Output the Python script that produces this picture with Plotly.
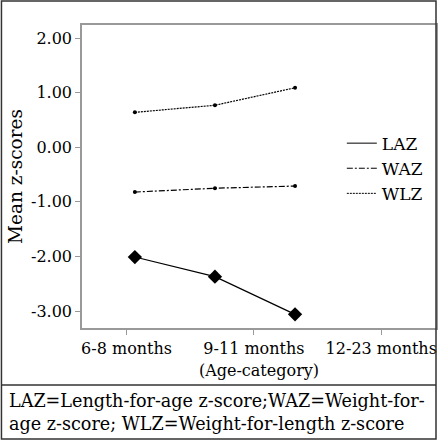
import plotly.graph_objects as go

categories = ["6-8 months", "9-11 months", "12-23 months"]
laz = [-2.01, -2.37, -3.06]
waz = [-0.82, -0.75, -0.71]
wlz = [0.64, 0.77, 1.09]
series_names = ["LAZ", "WAZ", "WLZ"]
y_ticks = [2, 1, 0, -1, -2, -3]
y_ticklabels = ["2.00", "1.00", "0.00", "-1.00", "-2.00", "-3.00"]
caption = "LAZ=Length-for-age z-score;WAZ=Weight-for-<br>age z-score; WLZ=Weight-for-length z-score"

FONT = "DejaVu Serif"
FS = 16
dashes = ["solid", "6px,2px,2px,2px", "2px,1px"]
markers = [dict(symbol="diamond", size=11, color="black"),
           dict(symbol="circle", size=4, color="black"),
           dict(symbol="circle", size=4, color="black")]

fig = go.Figure()
for name, vals, dash, mk in zip(series_names, [laz, waz, wlz], dashes, markers):
    fig.add_trace(go.Scatter(x=categories, y=vals, name=name, mode="lines+markers",
                             line=dict(color="black", width=1.2, dash=dash),
                             marker=mk, xaxis="x2", showlegend=False))
# legend entries (lines only)
for name, dash in zip(series_names, dashes):
    fig.add_trace(go.Scatter(x=[None], y=[None], name=name, mode="lines",
                             line=dict(color="black", width=1, dash=dash),
                             xaxis="x2", showlegend=True))
# invisible trace to anchor the visible categorical axis
fig.add_trace(go.Scatter(x=categories, y=[None, None, None], showlegend=False,
                         hoverinfo="skip", mode="lines"))

fig.update_layout(
    width=440, height=440,
    margin=dict(l=82, r=2, t=25, b=112),
    paper_bgcolor="white", plot_bgcolor="white",
    font=dict(family=FONT, size=FS, color="black"),
    showlegend=True,
    legend=dict(x=0.734, y=0.668, xanchor="left", yanchor="top",
                bgcolor="rgba(0,0,0,0)", font=dict(size=17),
                itemwidth=30, tracegroupgap=0),
    xaxis=dict(type="category", categoryorder="array", categoryarray=categories,
               range=[-0.35, 2.43], showline=True, linecolor="#999", linewidth=1.5,
               mirror=True, ticks="outside", ticklen=5, tickcolor="#999",
               showgrid=False, zeroline=False, tickfont=dict(size=FS),
               title=dict(text="(Age-category)", font=dict(size=FS), standoff=8)),
    xaxis2=dict(type="category", categoryorder="array", categoryarray=categories,
                range=[-0.66, 3.76], overlaying="x", visible=False, showgrid=False),
    yaxis=dict(range=[-3.31, 2.24], tickvals=y_ticks, ticktext=y_ticklabels,
               showline=True, linecolor="#999", linewidth=1.5, mirror=True,
               ticks="outside", ticklen=5, tickcolor="#999", showgrid=False,
               zeroline=False, tickfont=dict(size=FS),
               title=dict(text="Mean z-scores", font=dict(size=18.5), standoff=4)),
)

# outer frame and caption separator
fig.add_shape(type="rect", xref="paper", yref="paper", x0=-81/356, x1=1,
              y0=-111/303, y1=1+24/303, line=dict(color="#333", width=1.5))
fig.add_shape(type="line", xref="paper", yref="paper", x0=-81/356, x1=1,
              y0=-57/303, y1=-57/303, line=dict(color="#333", width=1.5))
fig.add_annotation(text=caption, xref="paper", yref="paper", x=-75/356, y=-61/303,
                   xanchor="left", yanchor="top", showarrow=False, align="left",
                   font=dict(family=FONT, size=17.6, color="black"))

fig.write_html("out.html", config={"displayModeBar": False},
               post_script="document.body.style.margin='0';")
